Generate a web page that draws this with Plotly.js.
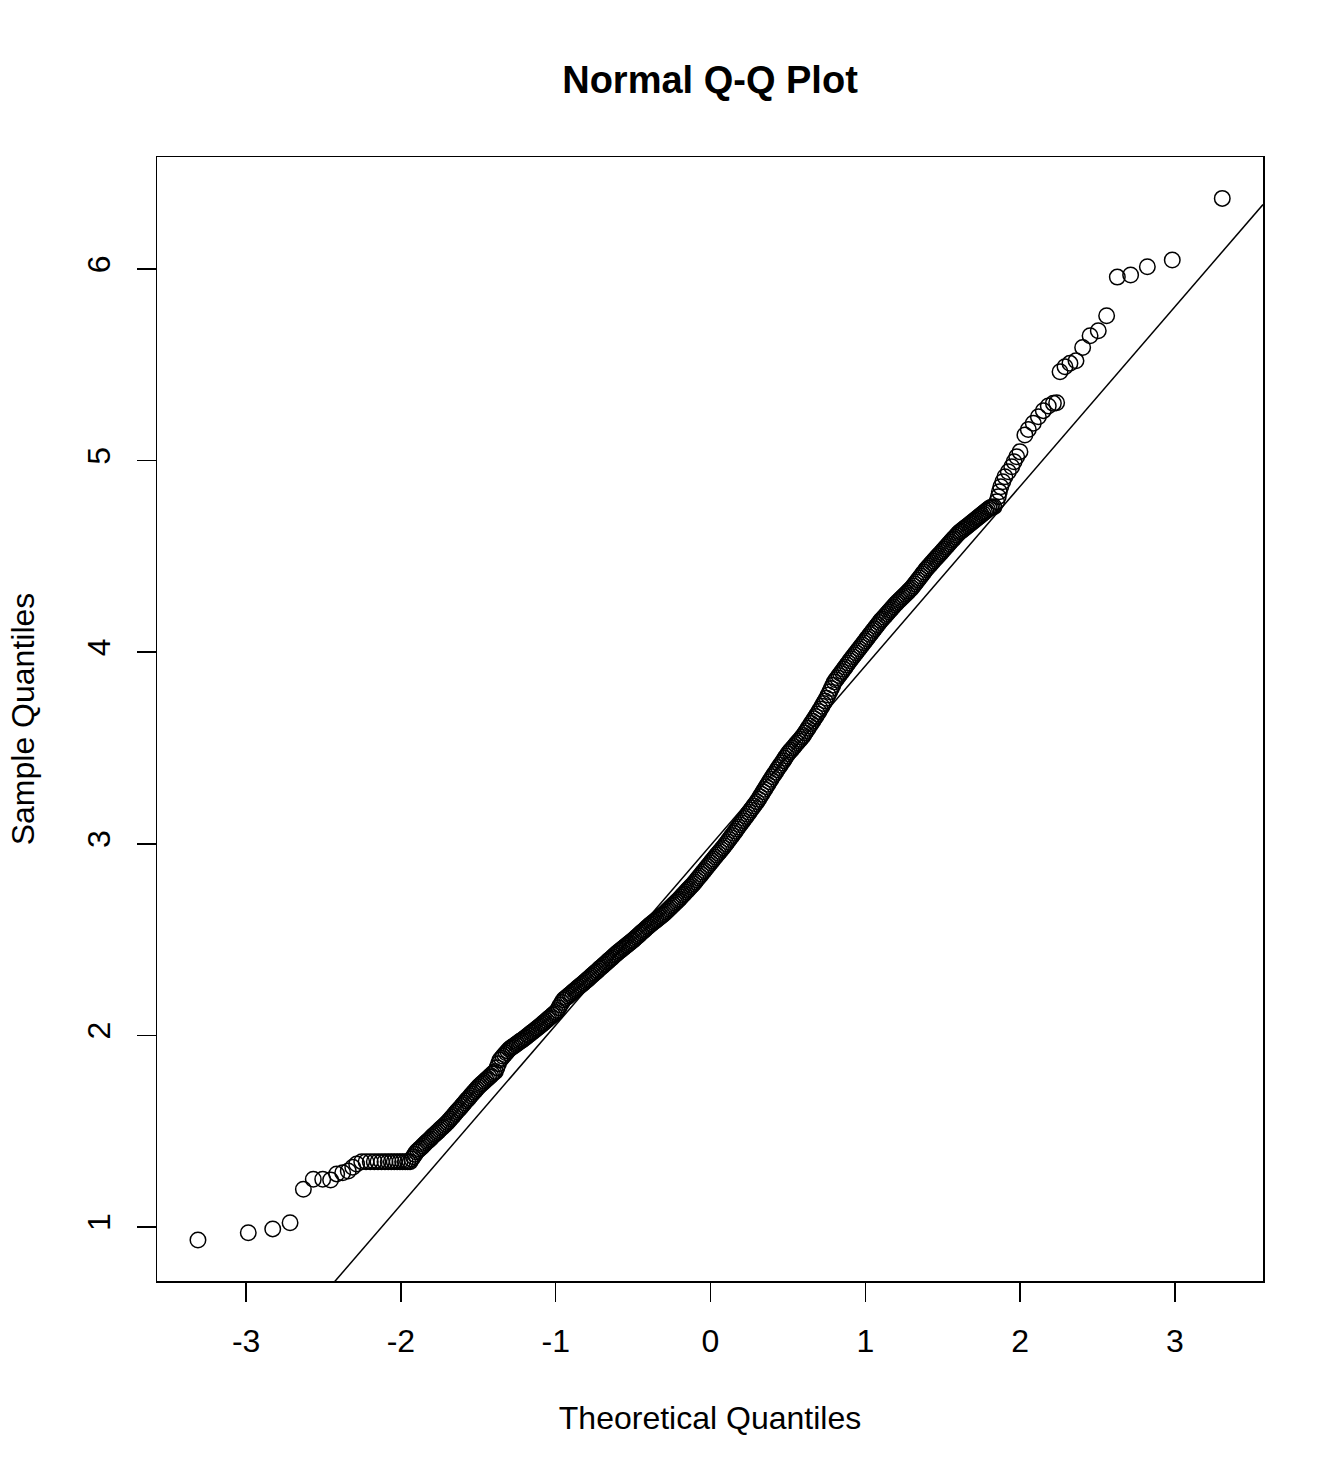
<!DOCTYPE html>
<html>
<head>
<meta charset="utf-8">
<script src="https://cdn.plot.ly/plotly-3.0.1.min.js"></script>
<style>
  html, body { margin: 0; padding: 0; background: #ffffff; }
  #chart { width: 1344px; height: 1478px; }
</style>
</head>
<body>
<div id="chart"></div>
<script>
// ---- Data ----
// Lower tail (individually visible points)
const lowTailTheo = [-3.311, -2.986, -2.828, -2.716, -2.630, -2.566, -2.505, -2.454, -2.415, -2.376, -2.340, -2.311, -2.286, -2.253,
  -2.225, -2.198, -2.172, -2.148, -2.125, -2.103, -2.082, -2.062, -2.043, -2.024, -2.006, -1.989, -1.972, -1.956, -1.941];
const lowTailSample = [0.932, 0.970, 0.990, 1.022, 1.197, 1.249, 1.249, 1.245, 1.277, 1.283, 1.292, 1.312, 1.329, 1.341,
  1.341, 1.341, 1.341, 1.341, 1.341, 1.341, 1.341, 1.341, 1.341, 1.341, 1.341, 1.341, 1.341, 1.341, 1.341];

// Dense central band
const coreTheo = [
  -1.93, -1.92, -1.91, -1.90,
  -1.89, -1.88, -1.87, -1.86, -1.85, -1.84, -1.83, -1.82, -1.81, -1.80,
  -1.79, -1.78, -1.77, -1.76, -1.75, -1.74, -1.73, -1.72, -1.71, -1.70,
  -1.69, -1.68, -1.67, -1.66, -1.65, -1.64, -1.63, -1.62, -1.61, -1.60,
  -1.59, -1.58, -1.57, -1.56, -1.55, -1.54, -1.53, -1.52, -1.51, -1.50,
  -1.49, -1.48, -1.47, -1.46, -1.45, -1.44, -1.43, -1.42, -1.41, -1.40,
  -1.39, -1.38, -1.37, -1.36, -1.35, -1.34, -1.33, -1.32, -1.31, -1.30,
  -1.29, -1.28, -1.27, -1.26, -1.25, -1.24, -1.23, -1.22, -1.21, -1.20,
  -1.19, -1.18, -1.17, -1.16, -1.15, -1.14, -1.13, -1.12, -1.11, -1.10,
  -1.09, -1.08, -1.07, -1.06, -1.05, -1.04, -1.03, -1.02, -1.01, -1.00,
  -0.99, -0.98, -0.97, -0.96, -0.95, -0.94, -0.93, -0.92, -0.91, -0.90,
  -0.89, -0.88, -0.87, -0.86, -0.85, -0.84, -0.83, -0.82, -0.81, -0.80,
  -0.79, -0.78, -0.77, -0.76, -0.75, -0.74, -0.73, -0.72, -0.71, -0.70,
  -0.69, -0.68, -0.67, -0.66, -0.65, -0.64, -0.63, -0.62, -0.61, -0.60,
  -0.59, -0.58, -0.57, -0.56, -0.55, -0.54, -0.53, -0.52, -0.51, -0.50,
  -0.49, -0.48, -0.47, -0.46, -0.45, -0.44, -0.43, -0.42, -0.41, -0.40,
  -0.39, -0.38, -0.37, -0.36, -0.35, -0.34, -0.33, -0.32, -0.31, -0.30,
  -0.29, -0.28, -0.27, -0.26, -0.25, -0.24, -0.23, -0.22, -0.21, -0.20,
  -0.19, -0.18, -0.17, -0.16, -0.15, -0.14, -0.13, -0.12, -0.11, -0.10,
  -0.09, -0.08, -0.07, -0.06, -0.05, -0.04, -0.03, -0.02, -0.01, 0.00,
  0.01, 0.02, 0.03, 0.04, 0.05, 0.06, 0.07, 0.08, 0.09, 0.10,
  0.11, 0.12, 0.13, 0.14, 0.15, 0.16, 0.17, 0.18, 0.19, 0.20,
  0.21, 0.22, 0.23, 0.24, 0.25, 0.26, 0.27, 0.28, 0.29, 0.30,
  0.31, 0.32, 0.33, 0.34, 0.35, 0.36, 0.37, 0.38, 0.39, 0.40,
  0.41, 0.42, 0.43, 0.44, 0.45, 0.46, 0.47, 0.48, 0.49, 0.50,
  0.51, 0.52, 0.53, 0.54, 0.55, 0.56, 0.57, 0.58, 0.59, 0.60,
  0.61, 0.62, 0.63, 0.64, 0.65, 0.66, 0.67, 0.68, 0.69, 0.70,
  0.71, 0.72, 0.73, 0.74, 0.75, 0.76, 0.77, 0.78, 0.79, 0.80,
  0.81, 0.82, 0.83, 0.84, 0.85, 0.86, 0.87, 0.88, 0.89, 0.90,
  0.91, 0.92, 0.93, 0.94, 0.95, 0.96, 0.97, 0.98, 0.99, 1.00,
  1.01, 1.02, 1.03, 1.04, 1.05, 1.06, 1.07, 1.08, 1.09, 1.10,
  1.11, 1.12, 1.13, 1.14, 1.15, 1.16, 1.17, 1.18, 1.19, 1.20,
  1.21, 1.22, 1.23, 1.24, 1.25, 1.26, 1.27, 1.28, 1.29, 1.30,
  1.31, 1.32, 1.33, 1.34, 1.35, 1.36, 1.37, 1.38, 1.39, 1.40,
  1.41, 1.42, 1.43, 1.44, 1.45, 1.46, 1.47, 1.48, 1.49, 1.50,
  1.51, 1.52, 1.53, 1.54, 1.55, 1.56, 1.57, 1.58, 1.59, 1.60,
  1.61, 1.62, 1.63, 1.64, 1.65, 1.66, 1.67, 1.68, 1.69, 1.70,
  1.71, 1.72, 1.73, 1.74, 1.75, 1.76, 1.77, 1.78, 1.79, 1.80,
  1.81, 1.82
];
const coreSample = [
  1.355, 1.367, 1.379, 1.391,
  1.399, 1.407, 1.414, 1.422, 1.430, 1.438, 1.446, 1.453, 1.461, 1.469,
  1.477, 1.484, 1.492, 1.499, 1.507, 1.515, 1.522, 1.530, 1.537, 1.545,
  1.554, 1.564, 1.573, 1.582, 1.592, 1.601, 1.610, 1.619, 1.629, 1.638,
  1.647, 1.657, 1.666, 1.675, 1.685, 1.694, 1.703, 1.712, 1.722, 1.731,
  1.738, 1.746, 1.753, 1.761, 1.768, 1.775, 1.783, 1.790, 1.798, 1.805,
  1.811, 1.831, 1.852, 1.872, 1.881, 1.891, 1.900, 1.909, 1.919, 1.928,
  1.934, 1.940, 1.945, 1.951, 1.957, 1.963, 1.969, 1.974, 1.980, 1.986,
  1.992, 1.999, 2.005, 2.012, 2.018, 2.024, 2.031, 2.037, 2.044, 2.050,
  2.057, 2.064, 2.071, 2.078, 2.085, 2.092, 2.099, 2.106, 2.113, 2.120,
  2.130, 2.144, 2.158, 2.172, 2.185, 2.192, 2.198, 2.205, 2.212, 2.219,
  2.226, 2.233, 2.240, 2.247, 2.254, 2.260, 2.267, 2.274, 2.281, 2.288,
  2.295, 2.302, 2.310, 2.317, 2.324, 2.331, 2.338, 2.346, 2.353, 2.360,
  2.367, 2.374, 2.382, 2.389, 2.396, 2.403, 2.410, 2.418, 2.425, 2.432,
  2.439, 2.445, 2.452, 2.458, 2.465, 2.471, 2.478, 2.484, 2.491, 2.497,
  2.504, 2.512, 2.519, 2.526, 2.534, 2.541, 2.548, 2.555, 2.563, 2.570,
  2.577, 2.583, 2.590, 2.596, 2.603, 2.609, 2.616, 2.622, 2.629, 2.635,
  2.643, 2.651, 2.658, 2.666, 2.674, 2.682, 2.690, 2.697, 2.705, 2.713,
  2.722, 2.731, 2.739, 2.748, 2.757, 2.766, 2.775, 2.783, 2.792, 2.801,
  2.811, 2.821, 2.831, 2.841, 2.851, 2.861, 2.871, 2.881, 2.891, 2.901,
  2.911, 2.921, 2.931, 2.941, 2.951, 2.960, 2.970, 2.980, 2.990, 3.000,
  3.011, 3.022, 3.033, 3.044, 3.055, 3.066, 3.077, 3.088, 3.099, 3.110,
  3.121, 3.132, 3.143, 3.154, 3.165, 3.176, 3.187, 3.198, 3.209, 3.220,
  3.233, 3.246, 3.259, 3.272, 3.285, 3.298, 3.311, 3.324, 3.337, 3.350,
  3.362, 3.374, 3.386, 3.398, 3.410, 3.422, 3.434, 3.446, 3.458, 3.470,
  3.480, 3.489, 3.499, 3.508, 3.518, 3.527, 3.537, 3.546, 3.556, 3.565,
  3.578, 3.590, 3.603, 3.615, 3.628, 3.640, 3.653, 3.665, 3.678, 3.690,
  3.704, 3.718, 3.732, 3.746, 3.760, 3.777, 3.794, 3.811, 3.828, 3.845,
  3.856, 3.867, 3.878, 3.889, 3.900, 3.911, 3.922, 3.933, 3.944, 3.955,
  3.966, 3.976, 3.987, 3.997, 4.008, 4.018, 4.029, 4.039, 4.050, 4.060,
  4.071, 4.081, 4.092, 4.102, 4.113, 4.123, 4.134, 4.144, 4.155, 4.165,
  4.174, 4.183, 4.192, 4.201, 4.210, 4.219, 4.228, 4.237, 4.246, 4.255,
  4.263, 4.271, 4.279, 4.287, 4.295, 4.303, 4.311, 4.319, 4.327, 4.335,
  4.346, 4.356, 4.367, 4.377, 4.388, 4.398, 4.409, 4.419, 4.430, 4.440,
  4.449, 4.458, 4.467, 4.476, 4.485, 4.494, 4.503, 4.512, 4.521, 4.530,
  4.539, 4.548, 4.557, 4.566, 4.575, 4.584, 4.593, 4.602, 4.611, 4.620,
  4.627, 4.633, 4.640, 4.646, 4.653, 4.659, 4.666, 4.672, 4.679, 4.685,
  4.692, 4.698, 4.705, 4.711, 4.718, 4.724, 4.731, 4.737, 4.744, 4.750,
  4.755, 4.757
];

// Upper tail (individually visible points)
const upTailTheo = [1.831, 1.849, 1.859, 1.866, 1.875, 1.888, 1.902, 1.924, 1.946, 1.961, 1.978, 1.999,
  2.031, 2.053, 2.085, 2.118, 2.150, 2.182, 2.215, 2.236,
  2.258, 2.290, 2.322, 2.361, 2.404, 2.452, 2.505, 2.559, 2.628, 2.714, 2.822, 2.983, 3.306];
const upTailSample = [4.759, 4.786, 4.812, 4.838, 4.864, 4.890, 4.916, 4.942, 4.968, 4.994, 5.020, 5.047,
  5.134, 5.163, 5.195, 5.229, 5.261, 5.285, 5.299, 5.302,
  5.464, 5.490, 5.508, 5.521, 5.591, 5.652, 5.678, 5.756, 5.958, 5.969, 6.012, 6.047, 6.369];

// Reference line (qqline through the quartiles)
const lineIntercept = 2.991;
const lineSlope = 0.9375;

// Axis ticks
const xTickVals = [-3, -2, -1, 0, 1, 2, 3];
const xTickText = ['-3', '-2', '-1', '0', '1', '2', '3'];
const yTickVals = [1, 2, 3, 4, 5, 6];
const yTickText = ['1', '2', '3', '4', '5', '6'];

// ---- Chart ----
const xRange = [-3.5756, 3.5691];
const yRange = [0.718, 6.585];

const theo = lowTailTheo.concat(coreTheo, upTailTheo);
const sample = lowTailSample.concat(coreSample, upTailSample);

const FONT = 'Liberation Sans, Arial, Helvetica, sans-serif';

const pointsTrace = {
  type: 'scatter',
  mode: 'markers',
  x: theo,
  y: sample,
  marker: {
    symbol: 'circle-open',
    size: 15.5,
    color: '#000000',
    line: { width: 1.5, color: '#000000' }
  },
  cliponaxis: true,
  hoverinfo: 'skip'
};

const lineX = [xRange[0], xRange[1]];
const lineY = lineX.map(v => lineIntercept + lineSlope * v);
const lineTrace = {
  type: 'scatter',
  mode: 'lines',
  x: lineX,
  y: lineY,
  line: { color: '#000000', width: 1.5 },
  hoverinfo: 'skip'
};

const axisCommon = {
  showline: true,
  linecolor: '#000000',
  linewidth: 1.5,
  mirror: true,
  ticks: 'outside',
  ticklen: 19,
  tickwidth: 1.5,
  tickcolor: '#000000',
  showgrid: false,
  zeroline: false,
  tickfont: { family: FONT, size: 32, color: '#000000' },
  tickmode: 'array'
};

const layout = {
  width: 1344,
  height: 1478,
  paper_bgcolor: '#ffffff',
  plot_bgcolor: '#ffffff',
  showlegend: false,
  margin: { l: 157, r: 81, t: 157, b: 197, pad: 0 },
  font: { family: FONT, color: '#000000' },
  title: {
    text: 'Normal Q-Q Plot',
    font: { family: FONT, size: 38, color: '#000000', weight: 'bold' },
    x: 0.5,
    xref: 'paper',
    xanchor: 'center',
    y: 1 - 80 / 1478,
    yref: 'container',
    yanchor: 'middle'
  },
  xaxis: Object.assign({}, axisCommon, {
    range: xRange,
    tickvals: xTickVals,
    ticktext: xTickText,
    ticklabelstandoff: 12,
    title: { text: 'Theoretical Quantiles', font: { family: FONT, size: 32, color: '#000000' }, standoff: 48 }
  }),
  yaxis: Object.assign({}, axisCommon, {
    range: yRange,
    tickvals: yTickVals,
    ticktext: yTickText,
    tickangle: -90,
    ticklabelstandoff: 14,
    title: { text: 'Sample Quantiles', font: { family: FONT, size: 32, color: '#000000' }, standoff: 36 }
  })
};

Plotly.newPlot('chart', [pointsTrace, lineTrace], layout, { staticPlot: true, displayModeBar: false });
</script>
</body>
</html>
